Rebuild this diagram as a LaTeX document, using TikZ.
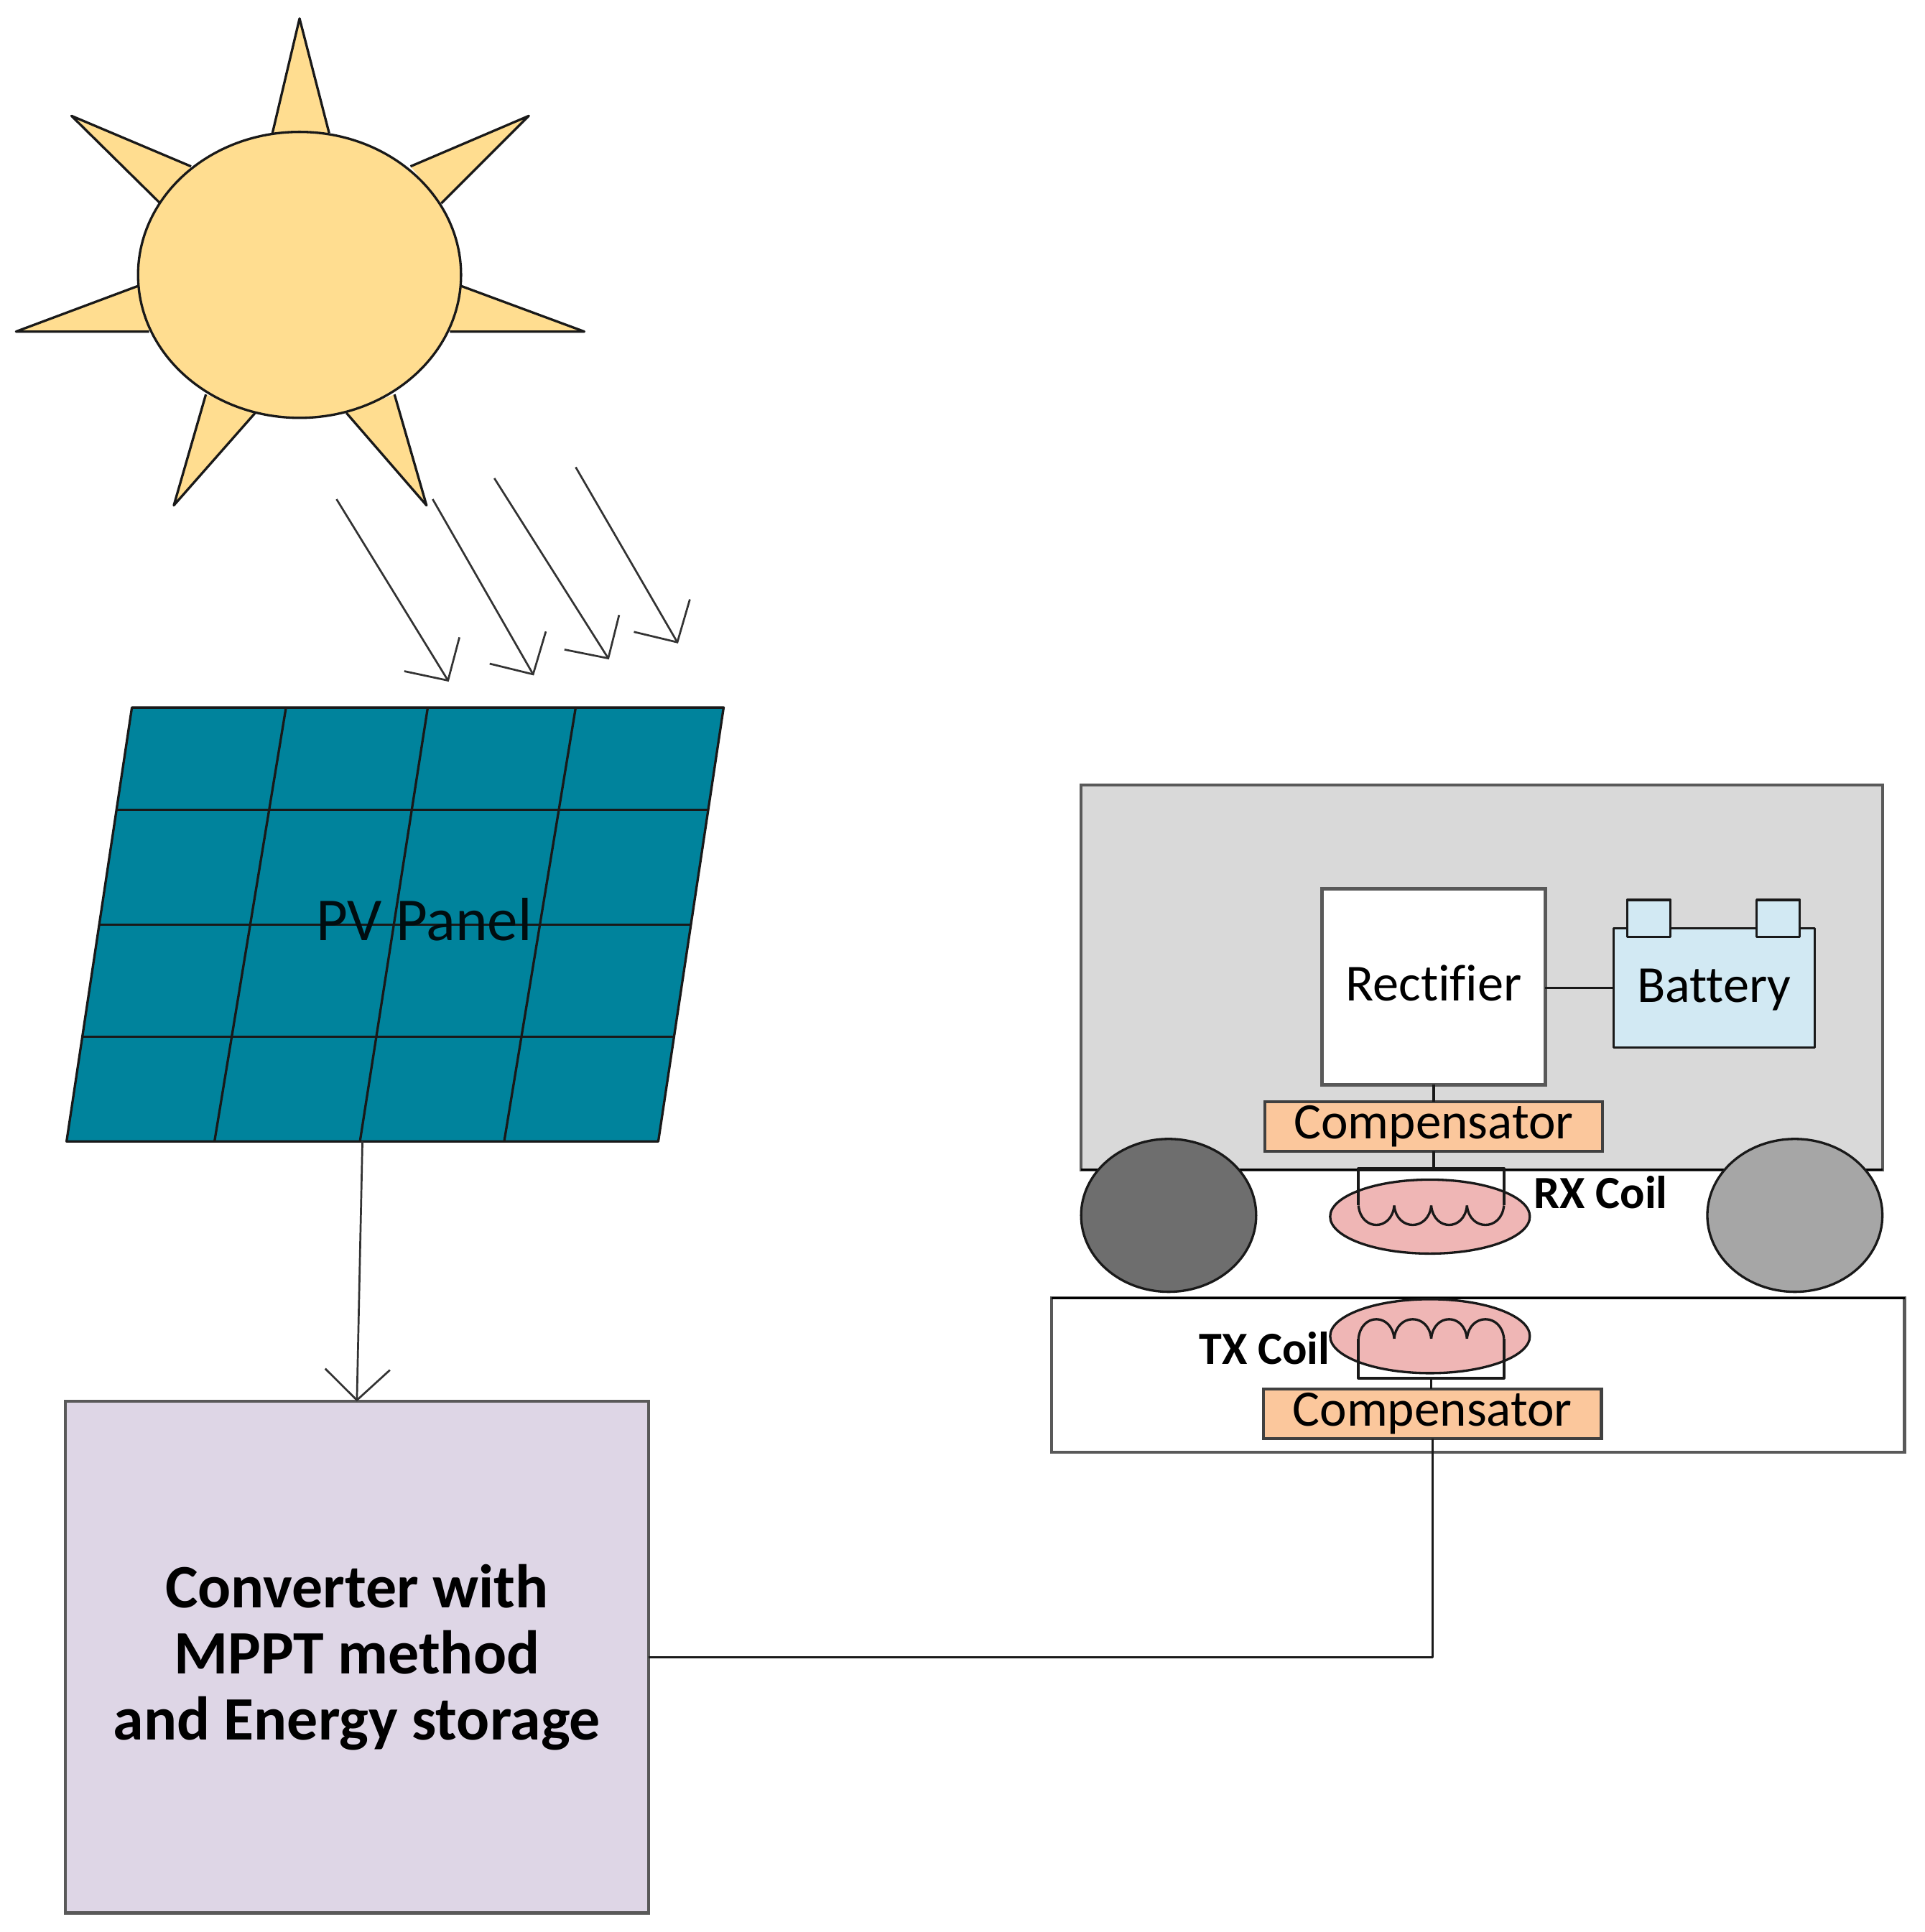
\documentclass[tikz,border=0pt]{standalone}
\usepackage{fontspec}
\setmainfont{Carlito}[Ligatures=NoCommon]
\usetikzlibrary{shapes.geometric,arrows.meta,positioning,calc}
\definecolor{sunfill}{HTML}{FFDD90}
\definecolor{panelfill}{HTML}{00839C}
\definecolor{convfill}{HTML}{DED6E6}
\definecolor{compfill}{HTML}{FBC79C}
\definecolor{coilfill}{HTML}{EFB6B5}
\definecolor{battfill}{HTML}{D2E9F3}
\begin{document}
\begin{tikzpicture}
	[ x=0.02cm, y=-0.02cm,
	  sz/.style 2 args={ minimum width=#1*0.02cm, minimum height=#2*0.02cm, inner sep=0pt, outer sep=0pt },
	  blk/.style={ draw=black!65, line width=1.4pt },
	  thin line/.style={ draw=black!90, line width=1.1pt, line join=round },
	  beam/.style={ draw=black!80, line width=0.9pt, -{Straight Barb[length=0.5cm,width=1.05cm,line width=0.9pt]} },
	  comp/.style={ blk, sz={274}{40}, fill=compfill, draw=black!75, font=\fontsize{23.6}{27}\selectfont },
	  pad/.style={ thin line, fill=coilfill, ellipse, sz={162}{60} },
	  term/.style={ thin line, fill=battfill, sz={35}{30} },
	  wheel/.style={ thin line, ellipse, sz={142}{124} },
	  tag/.style={ font=\fontsize{21.3}{25}\bfseries\selectfont, inner sep=0pt }
	]
	\useasboundingbox (0,0) rectangle (1561,1567.4);

	\foreach \tx/\ty/\ax/\ay/\bx/\by in {243/15/221/108/267/108, 429/94/333/135/358/165, 474/269/374/232/365/269,
		346/410/320/320/281/335, 141/410/167/320/207/335, 13/269/112/232/121/269, 58/94/155/135/130/165}{
		\draw[thin line, fill=sunfill] (\ax,\ay) -- (\tx,\ty) -- (\bx,\by);
	}
	\node[thin line, fill=sunfill, ellipse, sz={262}{232}] (sun) at (243,223) {};

	\foreach \i/\xa/\ya/\xb/\yb in {1/273/405/364/553, 2/351/405/433/548, 3/401/388/494/535, 4/467/379/550/522}{
		\coordinate (rayS\i) at (\xa,\ya);
		\coordinate (rayE\i) at (\xb,\yb);
		\draw[beam] (rayS\i) -- (rayE\i);
	}

	\draw[thin line, fill=panelfill] (107,574) -- (587,574) -- (534,926) -- (54,926) -- cycle;
	\foreach \xa/\xb/\yy in {95/574/657, 81/560/750, 67/547/841}{
		\draw[thin line] (\xa,\yy) -- (\xb,\yy);
	}
	\foreach \xa/\xb in {232/174, 347/292, 467/409}{
		\draw[thin line] (\xa,574) -- (\xb,926);
	}
	\node[font=\fontsize{28.2}{32}\selectfont, text=black!90!panelfill, inner sep=0pt] (pv) at (344,746) {PV Panel};
	\coordinate (pvout) at (294,926);

	\node[blk, fill=convfill, sz={473}{415}, align=center, font=\fontsize{28.5}{30.5}\bfseries\selectfont] (conv) at (289.5,1344.5)
		{Converter with\\MPPT method\\and Energy storage};
	\draw[beam] (pvout) -- (conv.north);

	\node[blk, fill=black!15, sz={650}{312}] (body) at (1202,793) {};
	\draw[draw=black, line width=1.1pt] (body.south west) -- (body.south east);
	\node[blk, line width=1.7pt, fill=white, sz={181}{159}, font=\fontsize{24}{27}\selectfont, text height=16pt, text depth=3pt] (rect) at (1163,800.5) {Rectifier};
	\node[thin line, fill=battfill, sz={163}{97}, font=\fontsize{24}{27}\selectfont, text height=16pt, text depth=3pt] (batt) at (1390.5,801.5) {Battery};
	\node[term] (termA) at (1337.5,745) {};
	\node[term] (termB) at (1442.5,745) {};
	\draw[thin line] (rect.east |- batt.west) -- (batt.west);

	\node[comp] (compR) at (1163,914) {Compensator};
	\draw[thin line] (rect.south) -- (compR.north);

	\node[wheel, fill=black!57] (wheelL) at (948,986) {};
	\node[wheel, fill=black!35] (wheelR) at (1456,986) {};

	\node[pad] (padR) at (1160,987) {};
	\coordinate (coilR) at (1163,948);
	\draw[thin line] (compR.south) -- (coilR);
	\draw[thin line, line width=1.3pt] (1102,978) -- (1102,948) -- (1220,948) -- (1220,978);
	\foreach \xa/\xb in {1102/1131, 1131/1161, 1161/1190, 1190/1220}{
		\draw[thin line] (\xa,978) .. controls (\xa+2,999) and (\xb-2,999) .. (\xb,978);
	}
	\node[tag, anchor=west] (rxlab) at (1244,967.5) {RX Coil};

	\node[blk, fill=white, sz={692}{125}] (ground) at (1199,1115.5) {};
	\draw[draw=black, line width=1.1pt] (ground.north west) -- (ground.north east);

	\node[pad] (padT) at (1160,1084) {};
	\coordinate (coilT) at (1161,1118);
	\draw[thin line, line width=1.3pt] (1102,1086) -- (1102,1118) -- (1220,1118) -- (1220,1086);
	\foreach \xa/\xb in {1102/1131, 1131/1161, 1161/1190, 1190/1220}{
		\draw[thin line] (\xa,1086) .. controls (\xa+2,1065) and (\xb-2,1065) .. (\xb,1086);
	}
	\node[tag, anchor=east] (txlab) at (1079,1093.5) {TX Coil};

	\node[comp] (compT) at (1162,1147) {Compensator};
	\draw[thin line] (coilT) -- (coilT |- compT.north);

	\draw[thin line] (conv.east) -| (compT.south);
\end{tikzpicture}
\end{document}
